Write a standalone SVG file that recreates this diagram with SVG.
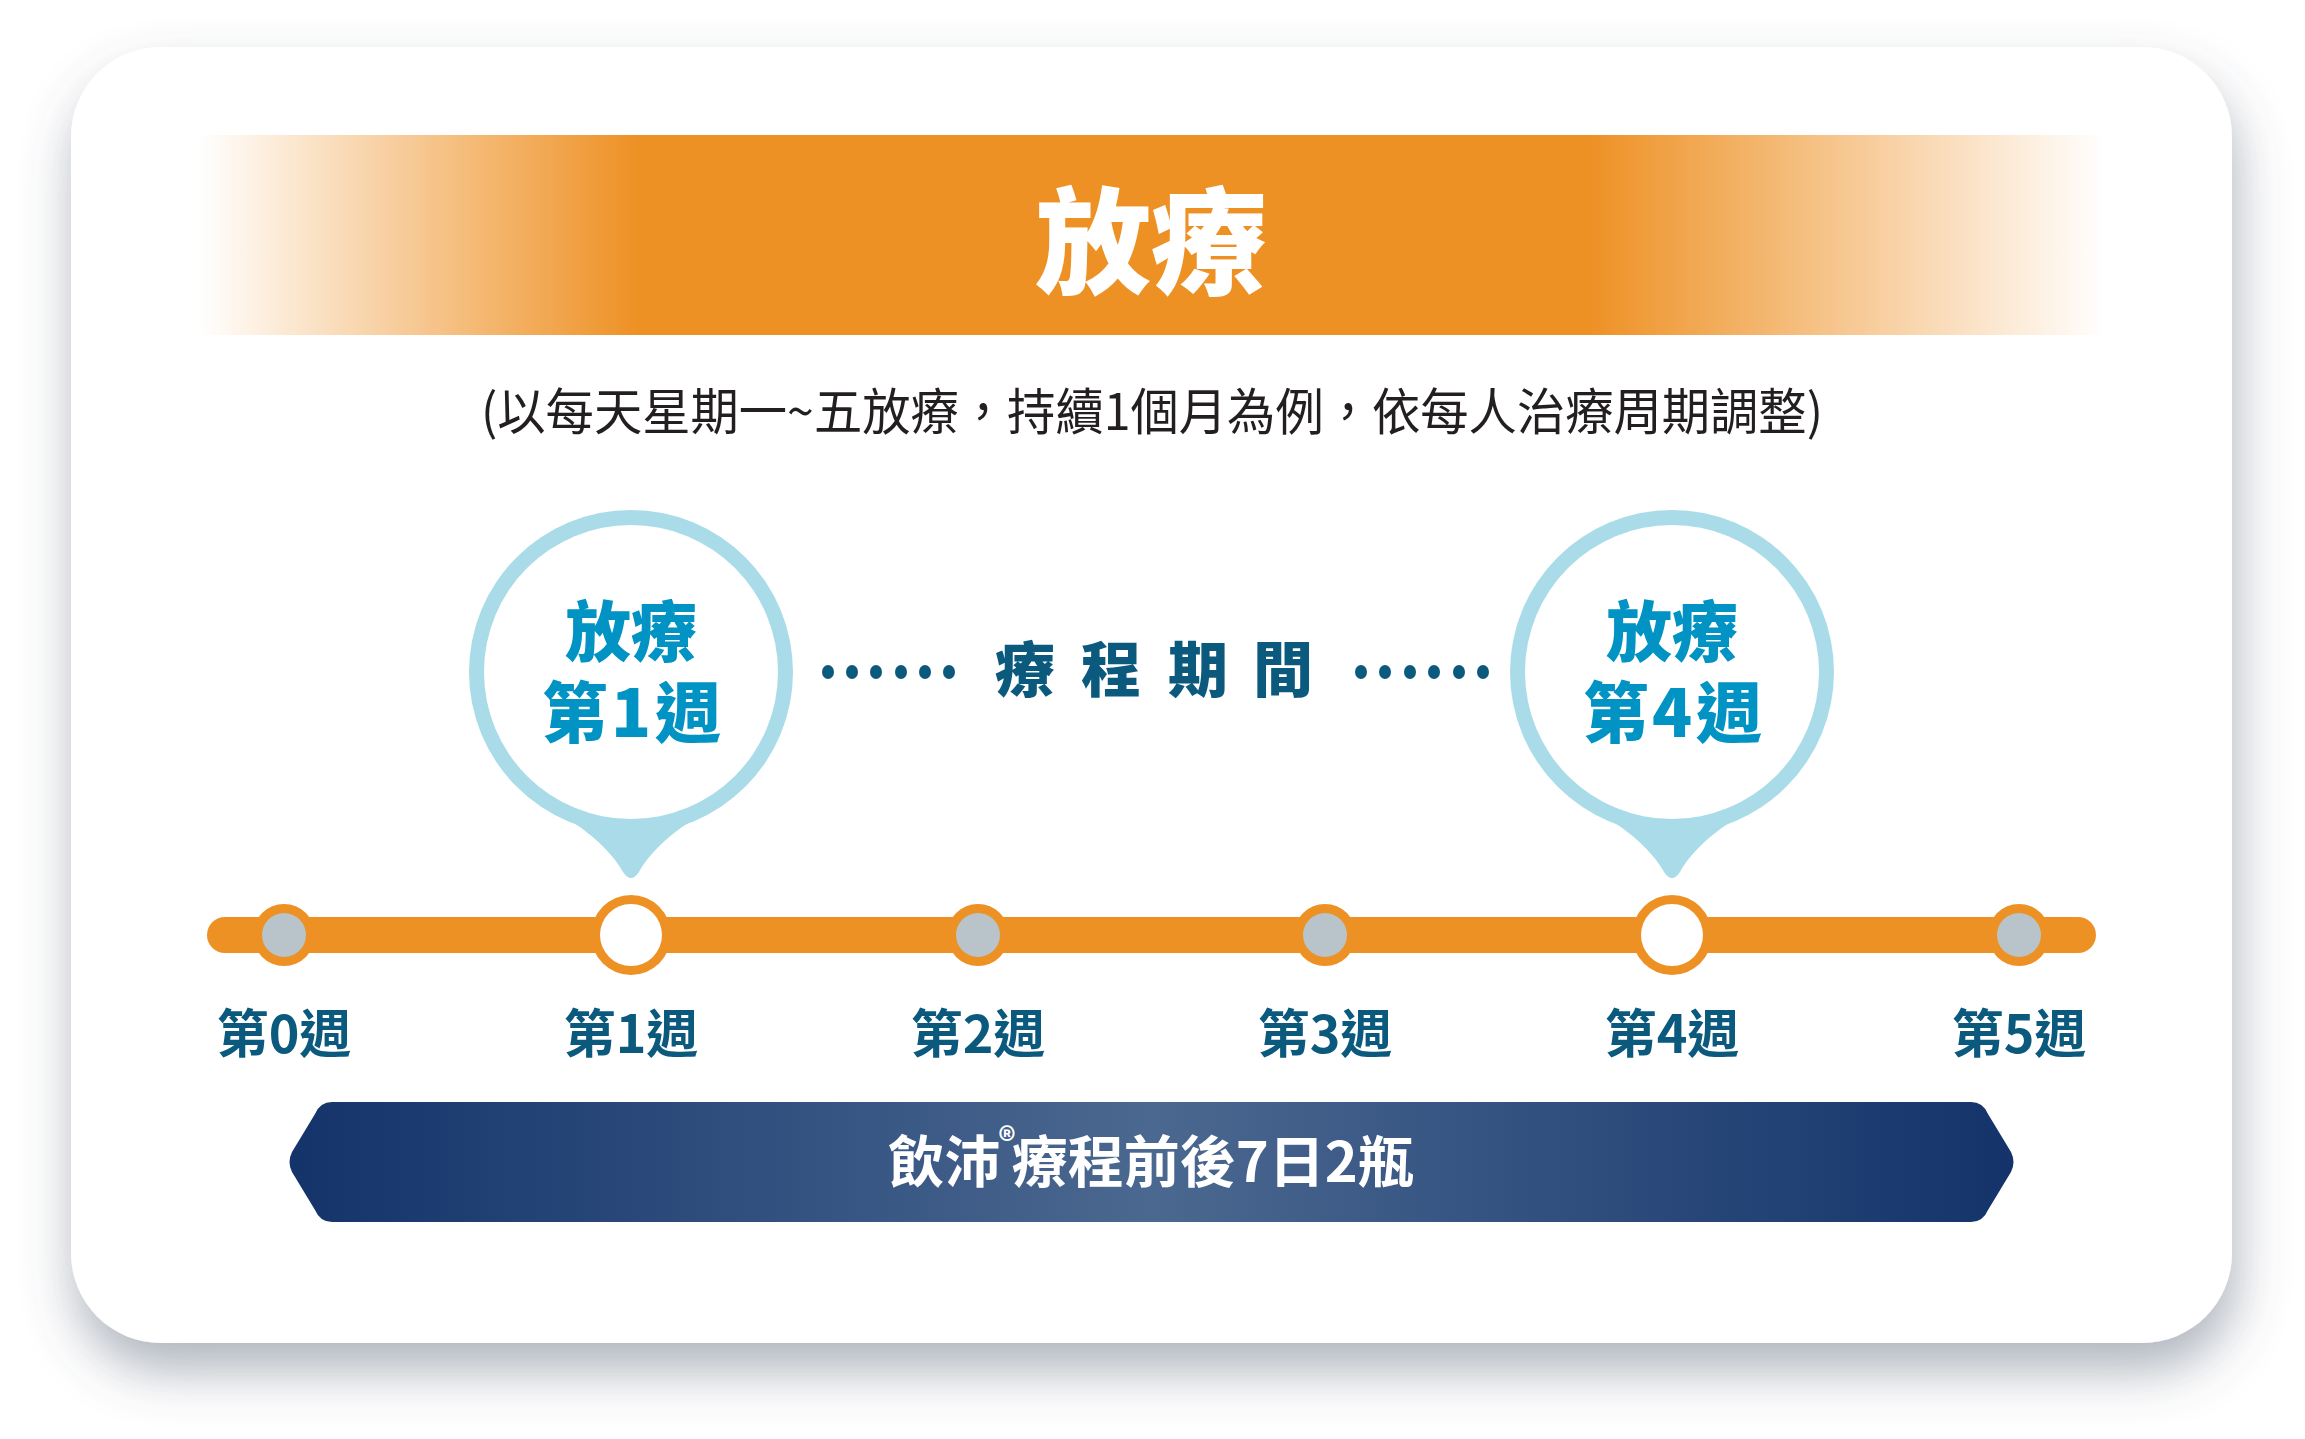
<svg xmlns="http://www.w3.org/2000/svg" width="2305" height="1439" viewBox="0 0 2305 1439">
<defs>
<filter id="shadow" x="-10%" y="-10%" width="120%" height="130%">
<feDropShadow dx="4" dy="28" stdDeviation="26" flood-color="#4f5b70" flood-opacity="0.45"/>
</filter>
<linearGradient id="orangeBand" x1="198" y1="0" x2="2105" y2="0" gradientUnits="userSpaceOnUse">
<stop offset="0" stop-color="#ffffff"/>
<stop offset="0.23" stop-color="#ee9125"/>
<stop offset="0.73" stop-color="#ee9125"/>
<stop offset="1" stop-color="#ffffff"/>
</linearGradient>
<linearGradient id="navyBand" x1="288" y1="0" x2="2015" y2="0" gradientUnits="userSpaceOnUse">
<stop offset="0" stop-color="#13336a"/>
<stop offset="0.5" stop-color="#4b6890"/>
<stop offset="1" stop-color="#13336a"/>
</linearGradient>
<style>
.cjk{font-family:"Noto Sans CJK TC","Noto Sans CJK SC",sans-serif;}
.wk{font-size:52px;font-weight:700;fill:#0b5a7e;text-anchor:middle;dominant-baseline:central;}
.bub{font-size:66px;font-weight:900;fill:#0093c4;text-anchor:middle;dominant-baseline:central;}
.mid{font-size:60px;font-weight:900;fill:#0b5a7e;text-anchor:middle;dominant-baseline:central;}
.ring{fill:#a9dce8;}
.bar{fill:#ee9125;}
.dotgrey{fill:#b8c4c9;}
.midDot{fill:#0b5a7e;}
</style>
</defs>
<rect x="0" y="0" width="2305" height="1439" fill="#ffffff"/>
<rect id="card" x="71" y="47" width="2161" height="1296" rx="90" ry="90" fill="#ffffff" filter="url(#shadow)"/>
<g id="title">
<rect x="198" y="135" width="1907" height="200" fill="url(#orangeBand)"/>
<text class="cjk" x="1151" y="234" font-size="116" font-weight="900" fill="#ffffff" text-anchor="middle" dominant-baseline="central">放療</text>
</g>
<g id="subtitle">
<text class="cjk" x="1152" y="408" font-size="50" font-weight="400" fill="#231f20" text-anchor="middle" dominant-baseline="central" textLength="1342" lengthAdjust="spacingAndGlyphs">(以每天星期一~五放療，持續1個月為例，依每人治療周期調整)</text>
</g>
<g id="connectors">
<rect class="bar" x="207" y="917" width="1889" height="36" rx="18"/>
</g>
<g id="week0"><circle cx="284" cy="935" r="31" class="bar"/><circle cx="284" cy="935" r="22" class="dotgrey"/><text class="cjk wk" x="284" y="1030">第0週</text></g>
<g id="week1"><circle cx="631" cy="935" r="40" class="bar"/><circle cx="631" cy="935" r="31" fill="#ffffff"/><text class="cjk wk" x="631" y="1030">第1週</text></g>
<g id="week2"><circle cx="978" cy="935" r="31" class="bar"/><circle cx="978" cy="935" r="22" class="dotgrey"/><text class="cjk wk" x="978" y="1030">第2週</text></g>
<g id="week3"><circle cx="1325" cy="935" r="31" class="bar"/><circle cx="1325" cy="935" r="22" class="dotgrey"/><text class="cjk wk" x="1325" y="1030">第3週</text></g>
<g id="week4"><circle cx="1672" cy="935" r="40" class="bar"/><circle cx="1672" cy="935" r="31" fill="#ffffff"/><text class="cjk wk" x="1672" y="1030">第4週</text></g>
<g id="week5"><circle cx="2019" cy="935" r="31" class="bar"/><circle cx="2019" cy="935" r="22" class="dotgrey"/><text class="cjk wk" x="2019" y="1030">第5週</text></g>
<g id="bubble1">
<circle cx="631" cy="672" r="162" class="ring"/>
<path class="ring" d="M541,806 C581,822 611,850 623,872 Q631,884 639,872 C651,850 681,822 721,806 Z"/>
<circle cx="631" cy="672" r="147" fill="#ffffff"/>
<text class="cjk bub"><tspan x="631" y="627">放療</tspan><tspan x="575" y="708">第</tspan><tspan x="631" y="708">1</tspan><tspan x="688" y="708">週</tspan></text>
</g>
<g id="bubble2">
<circle cx="1672" cy="672" r="162" class="ring"/>
<path class="ring" d="M1582,806 C1622,822 1652,850 1664,872 Q1672,884 1680,872 C1692,850 1722,822 1762,806 Z"/>
<circle cx="1672" cy="672" r="147" fill="#ffffff"/>
<text class="cjk bub"><tspan x="1672" y="627">放療</tspan><tspan x="1616" y="708">第</tspan><tspan x="1672" y="708">4</tspan><tspan x="1729" y="708">週</tspan></text>
</g>
<g id="period">
<ellipse class="midDot" cx="828" cy="672" rx="6" ry="7"/>
<ellipse class="midDot" cx="852" cy="672" rx="6" ry="7"/>
<ellipse class="midDot" cx="876" cy="672" rx="6" ry="7"/>
<ellipse class="midDot" cx="901" cy="672" rx="6" ry="7"/>
<ellipse class="midDot" cx="925" cy="672" rx="6" ry="7"/>
<ellipse class="midDot" cx="949" cy="672" rx="6" ry="7"/>
<text class="cjk mid" y="665"><tspan x="1025">療</tspan><tspan x="1111">程</tspan><tspan x="1198">期</tspan><tspan x="1283">間</tspan></text>
<ellipse class="midDot" cx="1361" cy="672" rx="6" ry="7"/>
<ellipse class="midDot" cx="1385" cy="672" rx="6" ry="7"/>
<ellipse class="midDot" cx="1410" cy="672" rx="6" ry="7"/>
<ellipse class="midDot" cx="1434" cy="672" rx="6" ry="7"/>
<ellipse class="midDot" cx="1459" cy="672" rx="6" ry="7"/>
<ellipse class="midDot" cx="1483" cy="672" rx="6" ry="7"/>
</g>
<g id="supplement">
<path fill="url(#navyBand)" d="M332,1102 L1971,1102 Q1983,1102 1988,1114 L2011,1152 Q2016,1162 2011,1172 L1988,1210 Q1983,1222 1971,1222 L332,1222 Q320,1222 315,1210 L292,1172 Q287,1162 292,1152 L315,1114 Q320,1102 332,1102 Z"/>
<text class="cjk" x="1151" y="1157" font-size="56" font-weight="700" fill="#ffffff" text-anchor="middle" dominant-baseline="central">飲沛<tspan font-size="34" baseline-shift="55%" dx="-2">®</tspan><tspan dx="-4">療程前後7日2瓶</tspan></text>
</g>
</svg>
